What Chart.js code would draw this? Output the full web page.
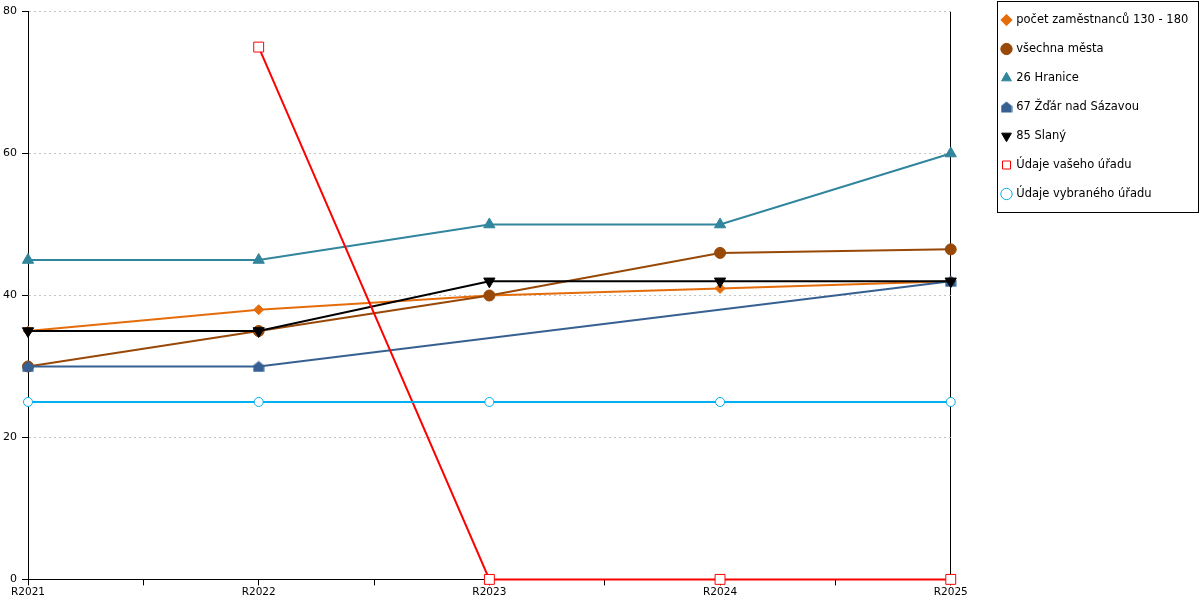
<!DOCTYPE html>
<html>
<head>
<meta charset="utf-8">
<script src="https://cdn.jsdelivr.net/npm/chart.js@4/dist/chart.umd.min.js"></script>
<style>
  html, body { margin: 0; padding: 0; background: #fff; }
  #wrap { width: 1200px; height: 600px; }
</style>
</head>
<body>
<div id="wrap"><canvas id="c" width="1200" height="600"></canvas></div>
<script>
const categories = ["R2021", "R2022", "R2023", "R2024", "R2025"];
const seriesNames = [
  "počet zaměstnanců 130 - 180",
  "všechna města",
  "26 Hranice",
  "67 Žďár nad Sázavou",
  "85 Slaný",
  "Údaje vašeho úřadu",
  "Údaje vybraného úřadu"
];
const pocetValues   = [35, 38, 40, 41, 42];
const vsechnaValues = [30, 35, 40, 46, 46.5];
const hraniceValues = [45, 45, 50, 50, 60];
const zdarValues    = [30, 30, null, null, 42];
const slanyValues   = [35, 35, 42, 42, 42];
const vasehoValues  = [null, 75, 0, 0, 0];
const vybranehoValues = [25, 25, 25, 25, 25];
const yTicks = [0, 20, 40, 60, 80];

function toPoints(arr) { return arr.map((v, i) => ({ x: i, y: v })); }

// house-shaped marker
function houseMarker(color) {
  const c = document.createElement('canvas');
  c.width = 12; c.height = 12;
  const g = c.getContext('2d');
  g.fillStyle = color;
  g.beginPath();
  g.moveTo(6, 0.5);
  g.lineTo(11.5, 5);
  g.lineTo(11.5, 11.5);
  g.lineTo(0.5, 11.5);
  g.lineTo(0.5, 5);
  g.closePath();
  g.fill();
  return c;
}

const styles = [
  { color: '#E46C0A', bg: '#E46C0A', pointStyle: 'rectRot', r: 5, rot: 0 },
  { color: '#984807', bg: '#984807', pointStyle: 'circle', r: 5.5, rot: 0 },
  { color: '#31859C', bg: '#31859C', pointStyle: 'triangle', r: 6.5, rot: 0 },
  { color: '#376092', bg: '#376092', pointStyle: houseMarker('#376092'), r: 6, rot: 0 },
  { color: '#000000', bg: '#000000', pointStyle: 'triangle', r: 6.5, rot: 180 },
  { color: '#FF0000', bg: '#FFFFFF', pointStyle: 'rect', r: 7, rot: 0 },
  { color: '#00B0F0', bg: '#FFFFFF', pointStyle: 'circle', r: 4.5, rot: 0 }
];
const allValues = [pocetValues, vsechnaValues, hraniceValues, zdarValues, slanyValues, vasehoValues, vybranehoValues];

const datasets = allValues.map((vals, i) => ({
  label: seriesNames[i],
  data: toPoints(vals),
  borderColor: styles[i].color,
  backgroundColor: styles[i].bg,
  pointBackgroundColor: styles[i].bg,
  pointBorderColor: styles[i].color,
  pointStyle: styles[i].pointStyle,
  pointRotation: styles[i].rot,
  pointRadius: styles[i].r,
  pointHoverRadius: styles[i].r,
  pointBorderWidth: 1,
  borderWidth: 2,
  tension: 0,
  spanGaps: true,
  clip: false,
  order: allValues.length - i
}));

const legendPlacer = {
  id: 'legendPlacer',
  beforeDraw(chart) {
    const lg = chart.legend;
    if (!lg) return;
    lg.left = 985;
    lg.right = 1200;
    lg.top = -3.25;
    lg.bottom = 600;
  },
  afterDraw(chart) {
    const ctx = chart.ctx;
    ctx.save();
    ctx.strokeStyle = '#000';
    ctx.lineWidth = 1;
    ctx.strokeRect(997.5, 1.5, 201, 211);
    ctx.restore();
  }
};

new Chart(document.getElementById('c'), {
  type: 'line',
  data: { datasets },
  plugins: [legendPlacer],
  options: {
    responsive: false,
    animation: false,
    events: [],
    layout: { padding: { top: 9, left: 0, right: 36, bottom: 0 } },
    plugins: {
      tooltip: { enabled: false },
      legend: {
        position: 'right',
        align: 'start',
        labels: {
          usePointStyle: true,
          boxHeight: 8,
          boxWidth: 8,
          padding: 17.5,
          color: '#000',
          font: { family: 'DejaVu Sans', size: 11.5 },
          sort: (a, b) => a.datasetIndex - b.datasetIndex
        }
      }
    },
    scales: {
      x: {
        type: 'linear',
        min: 0,
        max: categories.length - 1,
        ticks: {
          stepSize: 0.5,
          autoSkip: false,
          maxRotation: 0,
          padding: 1,
          color: '#000',
          font: { family: 'DejaVu Sans', size: 10.5 },
          callback: (v) => Number.isInteger(v) ? categories[v] : ''
        },
        afterBuildTicks: (scale) => {
          const t = [];
          for (let i = 0; i <= (categories.length - 1) * 2; i++) t.push({ value: i / 2 });
          scale.ticks = t;
        },
        grid: {
          color: (ctx) => (ctx.tick && ctx.tick.value === categories.length - 1) ? '#000' : 'rgba(0,0,0,0)',
          tickColor: '#000',
          tickLength: 6,
          drawTicks: true,
          drawOnChartArea: true
        },
        border: { color: '#000', width: 1 }
      },
      y: {
        min: 0,
        max: 80,
        afterBuildTicks: (scale) => { scale.ticks = yTicks.map(v => ({ value: v })); },
        afterFit: (scale) => { scale.width = 28; },
        ticks: {
          padding: 5,
          color: '#000',
          font: { family: 'DejaVu Sans', size: 11 }
        },
        grid: {
          color: (ctx) => (ctx.tick && ctx.tick.value === 0) ? 'rgba(0,0,0,0)' : '#c4c4c4',
          tickColor: '#000',
          tickLength: 6,
          tickBorderDash: []
        },
        border: { color: '#000', width: 1, dash: [2, 3] }
      }
    }
  }
});
</script>
</body>
</html>
